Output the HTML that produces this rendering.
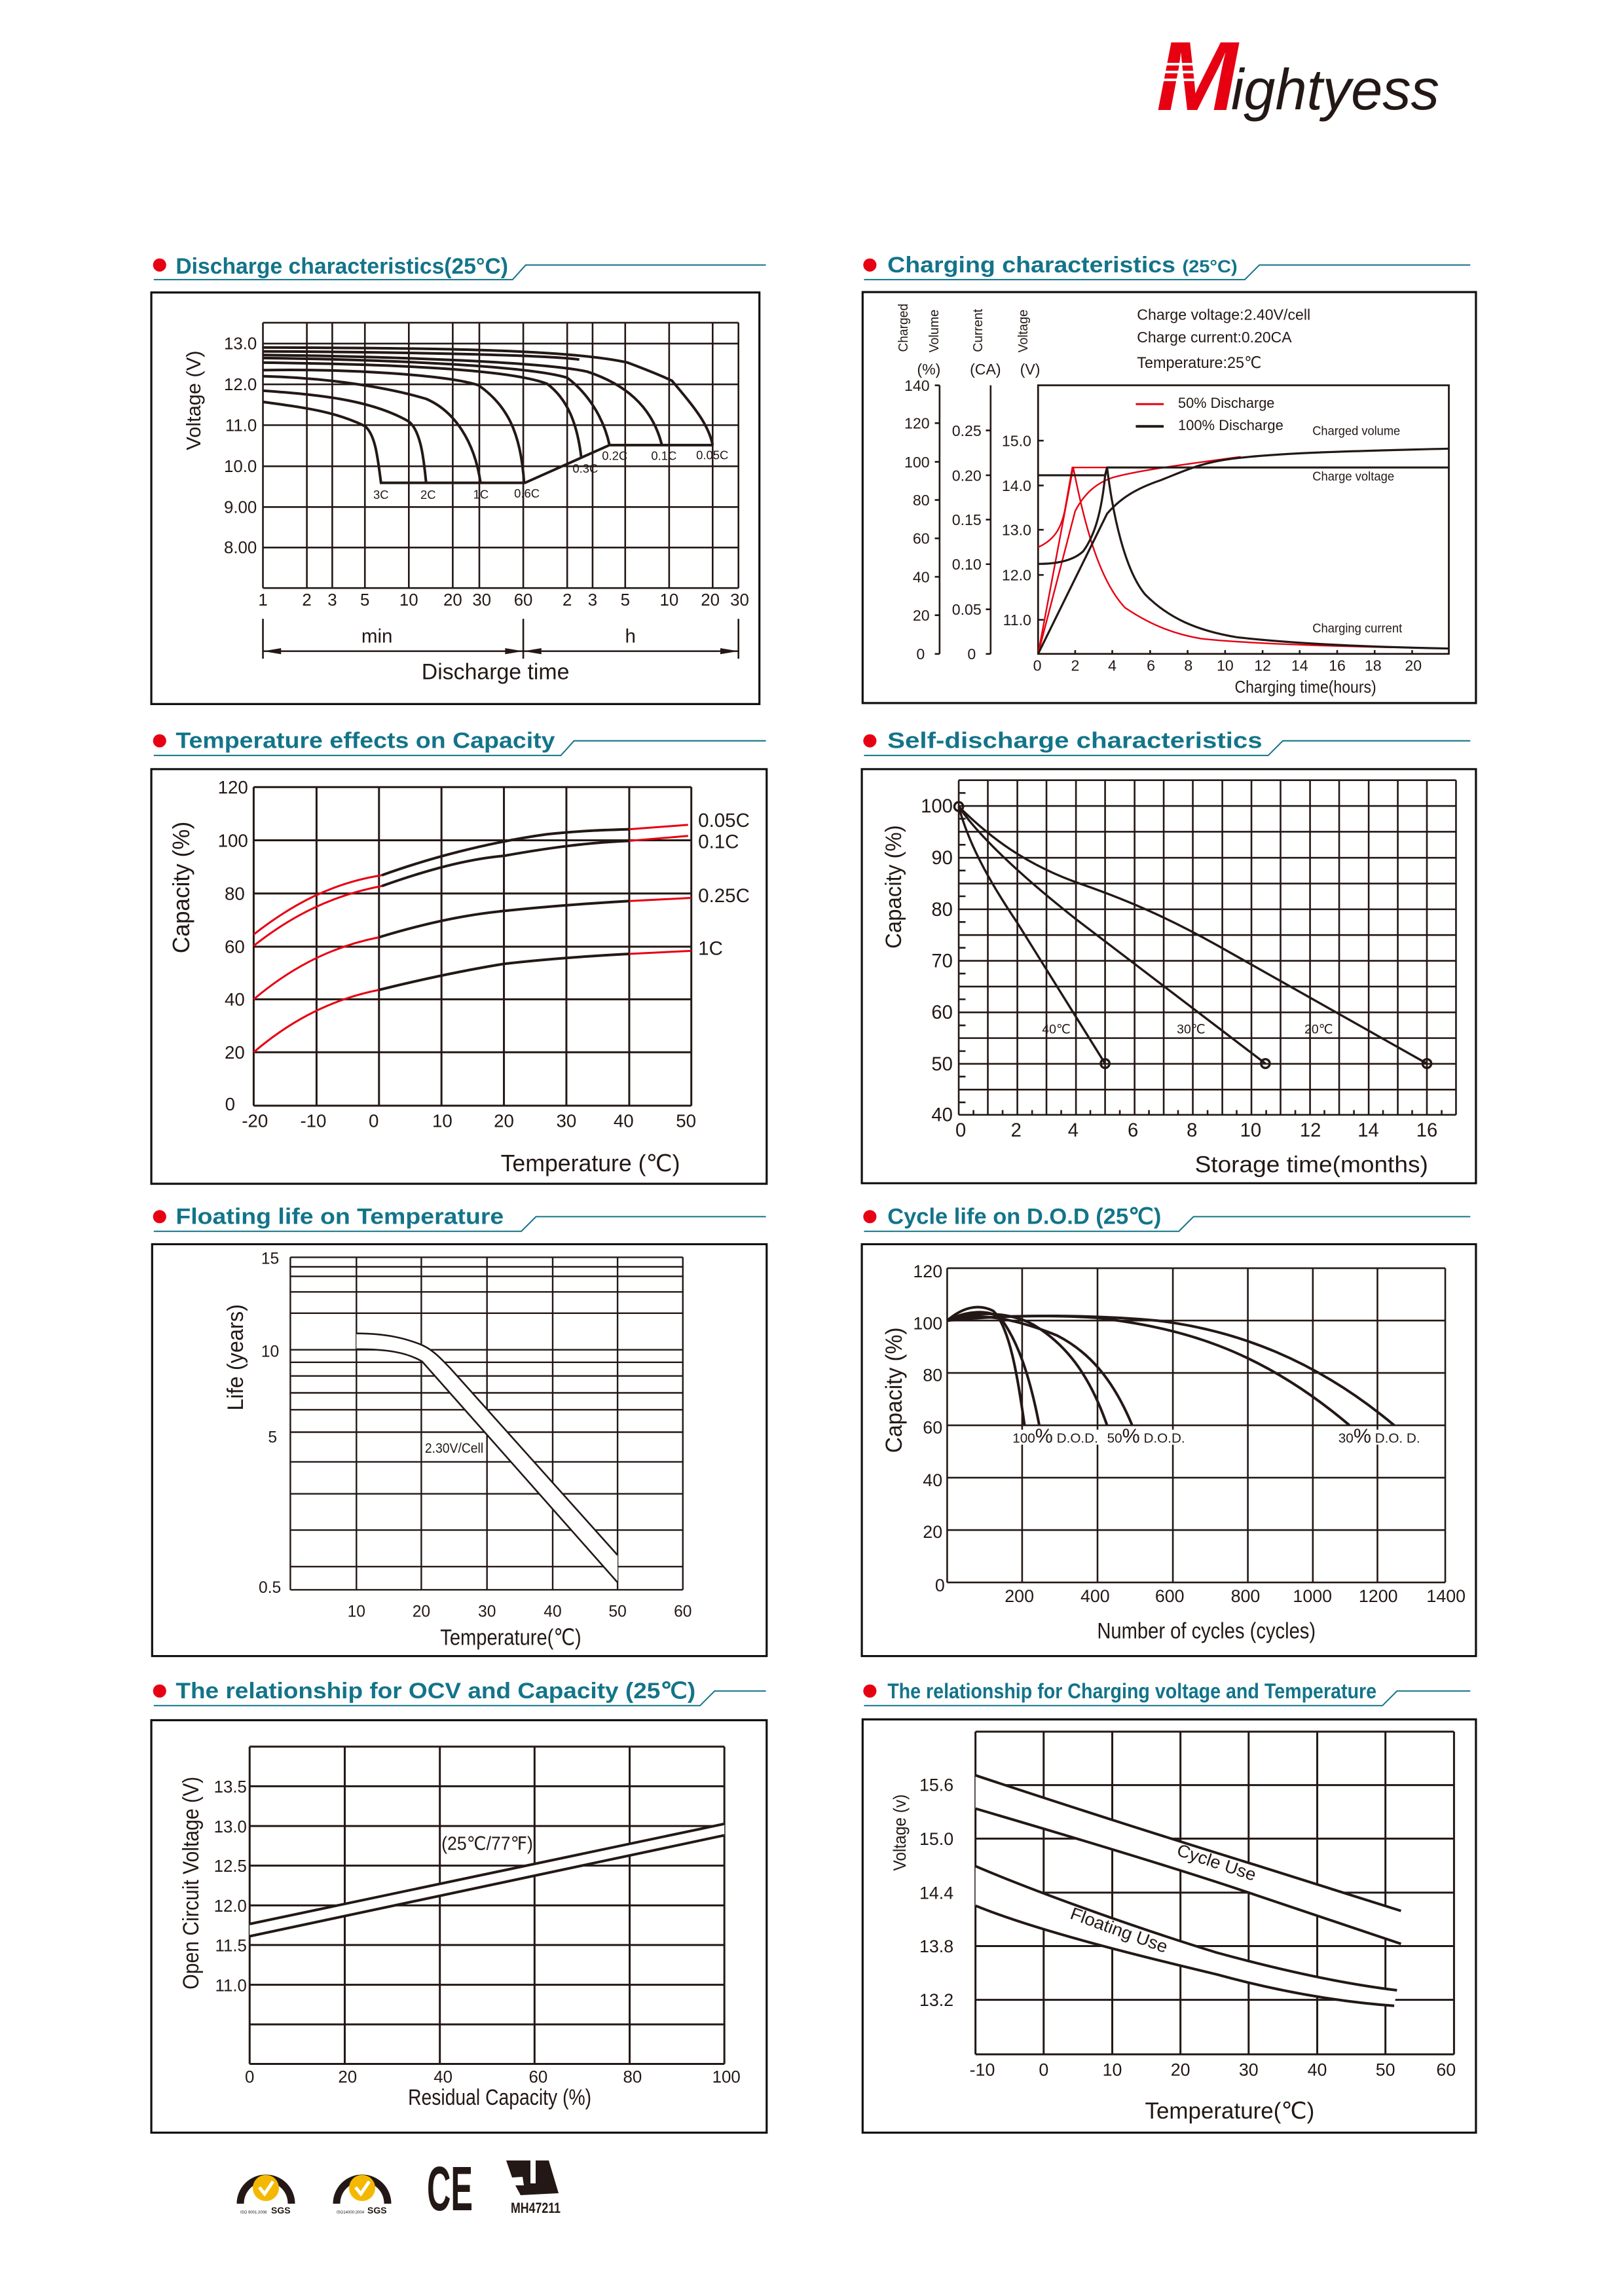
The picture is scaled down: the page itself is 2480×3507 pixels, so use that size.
<!DOCTYPE html>
<html><head><meta charset="utf-8">
<style>
html,body{margin:0;padding:0;background:#fff;}
svg{display:block;}
text{font-family:"Liberation Sans","DejaVu Sans",sans-serif;fill:#231815;}
.n path,.n rect,.n line,.n ellipse{vector-effect:non-scaling-stroke;}
.t{transform-box:fill-box;transform-origin:center;transform:scaleY(var(--k));}
.m{text-anchor:middle;}
.e{text-anchor:end;}
.g{fill:none;stroke:#231815;stroke-width:2.6;}
.c{fill:none;stroke:#231815;stroke-width:4;}
.r{fill:none;stroke:#e60012;stroke-width:3;}
.box{fill:none;stroke:#111;stroke-width:3.2;}
.ttl{font-family:"Liberation Sans Narrow","Liberation Sans",sans-serif;font-weight:bold;fill:#137489;}
</style></head><body>
<svg width="2480" height="3507" viewBox="0 0 2480 3507" xmlns="http://www.w3.org/2000/svg">
<rect x="0" y="0" width="2480" height="3507" fill="#fff"/>

<!-- Logo -->
<text x="1766" y="168" font-size="150" font-weight="bold" font-style="italic" fill="#e60012" style="fill:#e60012" textLength="124" lengthAdjust="spacingAndGlyphs">M</text>
<rect x="1770" y="96" width="60" height="4" fill="#fff"/>
<rect x="1770" y="108" width="60" height="4" fill="#fff"/>
<rect x="1770" y="120" width="60" height="4" fill="#fff"/>
<text x="1880" y="167" font-size="88" font-style="italic" textLength="318" lengthAdjust="spacingAndGlyphs">ightyess</text>

<!-- Titles -->
<g transform="scale(2.2363)">
 <g fill="#e60012">
  <circle cx="109" cy="181" r="4.5"/><circle cx="594" cy="181" r="4.5"/>
  <circle cx="109" cy="506" r="4.5"/><circle cx="594" cy="506" r="4.5"/>
  <circle cx="109" cy="831" r="4.5"/><circle cx="594" cy="831" r="4.5"/>
  <circle cx="109" cy="1155" r="4.5"/><circle cx="594" cy="1155" r="4.5"/>
 </g>
 <g fill="none" stroke="#137489" stroke-width="0.9">
  <polyline points="105,191 350,191 359,181 523,181"/>
  <polyline points="590,191 850,191 860,181 1004,181"/>
  <polyline points="105,516 383,516 392,506 523,506"/>
  <polyline points="590,516 866,516 876,506 1004,506"/>
  <polyline points="105,841 356,841 366,831 523,831"/>
  <polyline points="590,841 805,841 815,831 1004,831"/>
  <polyline points="105,1165 478,1165 488,1155 523,1155"/>
  <polyline points="590,1165 944,1165 954,1155 1004,1155"/>
 </g>
 <text class="ttl" x="120" y="187" font-size="15.5" textLength="227" lengthAdjust="spacingAndGlyphs">Discharge characteristics(25°C)</text>
 <text class="ttl" x="606" y="186" font-size="15.5" textLength="239" lengthAdjust="spacingAndGlyphs">Charging characteristics <tspan font-size="12">(25°C)</tspan></text>
 <text class="ttl" x="120" y="511" font-size="15.5" textLength="259" lengthAdjust="spacingAndGlyphs">Temperature effects on Capacity</text>
 <text class="ttl" x="606" y="511" font-size="15.5" textLength="256" lengthAdjust="spacingAndGlyphs">Self-discharge characteristics</text>
 <text class="ttl" x="120" y="836" font-size="15.5" textLength="224" lengthAdjust="spacingAndGlyphs">Floating life on Temperature</text>
 <text class="ttl" x="606" y="836" font-size="15.5" textLength="187" lengthAdjust="spacingAndGlyphs">Cycle life on D.O.D (25℃)</text>
 <text class="ttl" x="120" y="1160" font-size="15.5" textLength="355" lengthAdjust="spacingAndGlyphs">The relationship  for OCV and Capacity (25℃)</text>
 <text class="ttl" x="606" y="1160" font-size="14.5" textLength="334" lengthAdjust="spacingAndGlyphs">The relationship for Charging voltage and Temperature</text>
</g>

<!-- Chart 1: Discharge -->
<svg class="n" x="220" y="360" width="960" height="720" viewBox="0 0 1560 1560" preserveAspectRatio="none" overflow="visible" style="--k:1.333">
 <rect class="box" x="18" y="188" width="1509" height="1362"/>
 <path class="g" d="M295 288V1166M404 288V1166M467 288V1166M548 288V1166M657 288V1166M766 288V1166M832 288V1166M941 288V1166M1050 288V1166M1113 288V1166M1194 288V1166M1303 288V1166M1411 288V1166M1475 288V1166M295 288H1475M295 357H1475M295 492H1475M295 627H1475M295 763H1475M295 898H1475M295 1032H1475M295 1166H1475"/>
 <g class="c">
  <path d="M295 550C400 570 470 580 548 630C575 660 580 740 588 818L945 818L1155 693L1411 693"/>
  <path d="M295 513C420 525 560 540 657 615C690 650 695 760 700 818"/>
  <path d="M295 465C450 470 600 500 700 540C770 580 820 680 835 818"/>
  <path d="M295 445C500 440 750 460 830 495C900 560 935 650 943 818"/>
  <path d="M295 420C600 425 900 440 1000 490C1050 540 1075 620 1085 735"/>
  <path d="M295 405C600 410 950 430 1050 470C1100 520 1140 600 1155 693"/>
  <path d="M295 395C650 400 1000 420 1100 450C1190 490 1260 560 1285 693"/>
  <path d="M295 383C650 385 1000 395 1080 410"/>
  <path d="M295 370C700 372 1050 375 1200 420C1280 460 1310 480 1310 480C1360 560 1400 620 1411 693"/>
 </g>
 <path class="g" d="M295 1268V1400M941 1268V1400M1475 1268V1400M295 1375H1475"/>
 <path d="M295 1375L340 1365L340 1385ZM941 1375L896 1365L896 1385ZM941 1375L986 1365L986 1385ZM1475 1375L1430 1365L1430 1385Z" fill="#231815"/>
 <g font-size="42">
  <text class="t e" x="280" y="372">13.0</text><text class="t e" x="280" y="507">12.0</text>
  <text class="t e" x="280" y="642">11.0</text><text class="t e" x="280" y="778">10.0</text>
  <text class="t e" x="280" y="913">9.00</text><text class="t e" x="280" y="1047">8.00</text>
  <text class="t m" x="295" y="1220">1</text><text class="t m" x="404" y="1220">2</text><text class="t m" x="467" y="1220">3</text><text class="t m" x="548" y="1220">5</text><text class="t m" x="657" y="1220">10</text><text class="t m" x="766" y="1220">20</text><text class="t m" x="838" y="1220">30</text><text class="t m" x="941" y="1220">60</text><text class="t m" x="1050" y="1220">2</text><text class="t m" x="1113" y="1220">3</text><text class="t m" x="1194" y="1220">5</text><text class="t m" x="1303" y="1220">10</text><text class="t m" x="1405" y="1220">20</text><text class="t m" x="1478" y="1220">30</text>
 </g>
 <g font-size="30">
  <text class="t m" x="588" y="868">3C</text><text class="t m" x="705" y="868">2C</text><text class="t m" x="836" y="866">1C</text><text class="t m" x="950" y="863">0.6C</text><text class="t m" x="1095" y="781">0.3C</text><text class="t m" x="1168" y="739">0.2C</text><text class="t m" x="1290" y="739">0.1C</text><text class="t m" x="1410" y="736">0.05C</text>
 </g>
 <text class="t m" x="578" y="1342" font-size="48">min</text>
 <text class="t m" x="1207" y="1342" font-size="48">h</text>
 <text class="t m" x="872" y="1462" font-size="55">Discharge time</text>
 <text class="m" transform="translate(140 545) scale(1 1.333) rotate(-90)" font-size="50">Voltage (V)</text>
</svg>

<!-- Chart 2: Charging -->
<svg class="n" x="1310" y="440" width="950" height="640" viewBox="0 0 1560 1560" preserveAspectRatio="none" overflow="visible" style="--k:1.484">
 <rect class="box" x="12" y="15" width="1538" height="1530"/>
 <path class="g" d="M205 362V1362M193 362H205M193 503H205M193 647H205M193 789H205M193 932H205M193 1075H205M193 1218H205M193 1362H205M333 362V1362M321 530H333M321 697H333M321 862H333M321 1028H333M321 1196H333M321 1362H333M452 568h14M452 735h14M452 900h14M452 1068h14M452 1235h14M545 1362v-14M638 1362v-14M733 1362v-14M827 1362v-14M921 1362v-14M1015 1362v-14M1108 1362v-14M1202 1362v-14M1296 1362v-14M1390 1362v-14"/>
 <rect x="452" y="362" width="1030" height="1000" fill="none" stroke="#231815" stroke-width="2.8"/>
 <g class="r" style="stroke-width:2.4">
  <path d="M452 965C490 940 510 900 520 820L538 668L625 668"/>
  <path d="M452 1362L545 830C570 760 600 725 640 705C700 680 800 660 960 628"/>
  <path d="M452 1362L540 668C565 850 600 1080 670 1190C740 1260 800 1290 860 1305C950 1320 1100 1330 1340 1338"/>
 </g>
 <g class="c" style="stroke-width:3.2">
  <path d="M452 1027C500 1027 540 1015 565 980C590 930 610 850 620 700L625 668L1482 668"/>
  <path d="M452 697L620 697L625 668C640 850 670 1050 720 1140C780 1230 850 1275 950 1300C1100 1325 1300 1337 1482 1342"/>
  <path d="M452 1362L625 840C660 780 700 745 760 715C820 680 860 650 940 635C1050 615 1200 608 1482 598"/>
  <path d="M697 515H767" style="stroke-width:4"/>
 </g>
 <path class="r" d="M697 432H767"/>
 <g font-size="38">
  <text class="t e" x="180" y="376">140</text><text class="t e" x="180" y="517">120</text><text class="t e" x="180" y="661">100</text><text class="t e" x="180" y="803">80</text><text class="t e" x="180" y="946">60</text><text class="t e" x="180" y="1089">40</text><text class="t e" x="180" y="1232">20</text><text class="t e" x="168" y="1376">0</text>
  <text class="t e" x="310" y="544">0.25</text><text class="t e" x="310" y="711">0.20</text><text class="t e" x="310" y="876">0.15</text><text class="t e" x="310" y="1042">0.10</text><text class="t e" x="310" y="1210">0.05</text><text class="t e" x="296" y="1376">0</text>
  <text class="t e" x="435" y="582">15.0</text><text class="t e" x="435" y="749">14.0</text><text class="t e" x="435" y="914">13.0</text><text class="t e" x="435" y="1082">12.0</text><text class="t e" x="435" y="1249">11.0</text>
  <text class="t m" x="450" y="1418">0</text><text class="t m" x="545" y="1418">2</text><text class="t m" x="638" y="1418">4</text><text class="t m" x="735" y="1418">6</text><text class="t m" x="829" y="1418">8</text><text class="t m" x="921" y="1418">10</text><text class="t m" x="1015" y="1418">12</text><text class="t m" x="1108" y="1418">14</text><text class="t m" x="1202" y="1418">16</text><text class="t m" x="1292" y="1418">18</text><text class="t m" x="1393" y="1418">20</text>
  <text class="t" x="178" y="315" text-anchor="middle">(%)</text><text class="t m" x="320" y="315">(CA)</text><text class="t m" x="432" y="315">(V)</text>
 </g>
 <text class="m" transform="translate(125 148) scale(1 1.484) rotate(-90)" font-size="34" textLength="121" lengthAdjust="spacingAndGlyphs">Charged</text>
 <text class="m" transform="translate(202 160) scale(1 1.484) rotate(-90)" font-size="34" textLength="108" lengthAdjust="spacingAndGlyphs">Volume</text>
 <text class="m" transform="translate(312 158) scale(1 1.484) rotate(-90)" font-size="34" textLength="108" lengthAdjust="spacingAndGlyphs">Current</text>
 <text class="m" transform="translate(425 160) scale(1 1.484) rotate(-90)" font-size="34" textLength="108" lengthAdjust="spacingAndGlyphs">Voltage</text>
 <text class="t" x="700" y="112" font-size="38" textLength="435" lengthAdjust="spacingAndGlyphs">Charge voltage:2.40V/cell</text>
 <text class="t" x="700" y="196" font-size="38" textLength="388" lengthAdjust="spacingAndGlyphs">Charge current:0.20CA</text>
 <text class="t" x="700" y="292" font-size="40" textLength="312" lengthAdjust="spacingAndGlyphs">Temperature:25℃</text>
 <text class="t" x="803" y="440" font-size="36" textLength="242" lengthAdjust="spacingAndGlyphs">50% Discharge</text>
 <text class="t" x="803" y="523" font-size="36" textLength="264" lengthAdjust="spacingAndGlyphs">100% Discharge</text>
 <text class="t" x="1140" y="542" font-size="32" textLength="220" lengthAdjust="spacingAndGlyphs">Charged volume</text>
 <text class="t" x="1140" y="712" font-size="32" textLength="205" lengthAdjust="spacingAndGlyphs">Charge voltage</text>
 <text class="t" x="1140" y="1277" font-size="32" textLength="225" lengthAdjust="spacingAndGlyphs">Charging current</text>
 <text class="t" x="945" y="1500" font-size="42" textLength="355" lengthAdjust="spacingAndGlyphs">Charging time(hours)</text>
</svg>

<!-- Chart 3: Temperature effects -->
<svg class="n" x="220" y="1160" width="960" height="660" viewBox="0 0 1560 1560" preserveAspectRatio="none" overflow="visible" style="--k:1.4545">
 <rect class="box" x="18" y="35" width="1527" height="1497"/>
 <path class="g" style="stroke-width:3" d="M272 100V1250M428 100V1250M583 100V1250M738 100V1250M893 100V1250M1048 100V1250M1204 100V1250M1358 100V1250M272 100H1358M272 292H1358M272 484H1358M272 676H1358M272 866H1358M272 1057H1358M272 1250H1358"/>
 <g class="r"><path d="M272 632C370 520 470 445 590 418"/><path d="M1204 252L1350 236"/>
  <path d="M272 673C370 560 470 490 590 457"/><path d="M1204 294L1350 276"/>
  <path d="M272 866C350 770 450 680 583 642"/><path d="M1204 511L1358 500"/>
  <path d="M272 1057C350 960 450 870 583 832"/><path d="M1204 702L1358 691"/></g>
 <g class="c"><path d="M590 418C700 360 850 300 1000 270C1100 255 1150 255 1204 252"/>
  <path d="M590 457C700 400 800 360 893 348C1000 320 1100 300 1204 294"/>
  <path d="M583 642C700 590 800 560 893 547C1000 530 1100 520 1204 511"/>
  <path d="M583 832C700 790 800 760 893 738C1000 720 1100 710 1204 702"/></g>
 <g font-size="45">
  <text class="t e" x="258" y="116">120</text><text class="t e" x="258" y="308">100</text><text class="t e" x="250" y="500">80</text><text class="t e" x="250" y="692">60</text><text class="t e" x="250" y="882">40</text><text class="t e" x="250" y="1073">20</text><text class="t e" x="226" y="1260">0</text>
  <text class="t m" x="275" y="1320">-20</text><text class="t m" x="420" y="1320">-10</text><text class="t m" x="570" y="1320">0</text><text class="t m" x="740" y="1320">10</text><text class="t m" x="893" y="1320">20</text><text class="t m" x="1048" y="1320">30</text><text class="t m" x="1190" y="1320">40</text><text class="t m" x="1345" y="1320">50</text>
 </g>
 <g font-size="48"><text class="t" x="1375" y="236">0.05C</text><text class="t" x="1375" y="313">0.1C</text><text class="t" x="1375" y="508">0.25C</text><text class="t" x="1375" y="698">1C</text></g>
 <text class="m" transform="translate(112 462) scale(1 1.4545) rotate(-90)" font-size="58" textLength="327" lengthAdjust="spacingAndGlyphs">Capacity  (%)</text>
 <text class="t" x="885" y="1478" font-size="58" textLength="445" lengthAdjust="spacingAndGlyphs">Temperature (℃)</text>
</svg>

<!-- Chart 4: Self-discharge -->
<svg class="n" x="1310" y="1160" width="950" height="660" viewBox="0 0 1560 1560" preserveAspectRatio="none" overflow="visible" style="--k:1.439">
 <rect class="box" x="10" y="35" width="1540" height="1495"/>
 <path class="g" d="M253 75V1283M326 75V1283M400 75V1283M473 75V1283M547 75V1283M620 75V1283M694 75V1283M767 75V1283M840 75V1283M914 75V1283M987 75V1283M1060 75V1283M1134 75V1283M1207 75V1283M1281 75V1283M1354 75V1283M1427 75V1283M1500 75V1283M253 75H1500M253 168H1500M253 261H1500M253 355H1500M253 448H1500M253 541H1500M253 634H1500M253 727H1500M253 820H1500M253 913H1500M253 1006H1500M253 1099H1500M253 1192H1500M253 1283H1500M253 121h17M253 214h17M253 308h17M253 401h17M253 494h17M253 587h17M253 680h17M253 773h17M253 866h17M253 960h17M253 1053h17M253 1145h17M253 1238h17M290 1283v-17M363 1283v-17M437 1283v-17M510 1283v-17M583 1283v-17M657 1283v-17M730 1283v-17M803 1283v-17M877 1283v-17M950 1283v-17M1024 1283v-17M1097 1283v-17M1170 1283v-17M1244 1283v-17M1317 1283v-17M1390 1283v-17M1464 1283v-17"/>
 <g class="c" style="stroke-width:3.4">
  <path d="M253 170C275 290 320 420 400 590L620 1098"/>
  <path d="M253 170C300 270 400 410 550 580L1022 1098"/>
  <path d="M253 170C330 280 420 380 560 450C700 520 800 590 900 670L1427 1098"/>
  <ellipse cx="253" cy="170" rx="11" ry="16"/><ellipse cx="620" cy="1098" rx="11" ry="16"/><ellipse cx="1022" cy="1098" rx="11" ry="16"/><ellipse cx="1427" cy="1098" rx="11" ry="16"/>
 </g>
 <g font-size="48">
  <text class="t e" x="238" y="185">100</text><text class="t e" x="238" y="372">90</text><text class="t e" x="238" y="558">80</text><text class="t e" x="238" y="744">70</text><text class="t e" x="238" y="930">60</text><text class="t e" x="238" y="1116">50</text><text class="t e" x="238" y="1300">40</text>
  <text class="t m" x="258" y="1355">0</text><text class="t m" x="397" y="1355">2</text><text class="t m" x="540" y="1355">4</text><text class="t m" x="690" y="1355">6</text><text class="t m" x="838" y="1355">8</text><text class="t m" x="985" y="1355">10</text><text class="t m" x="1135" y="1355">12</text><text class="t m" x="1280" y="1355">14</text><text class="t m" x="1427" y="1355">16</text>
 </g>
 <g font-size="32"><text class="t" x="462" y="985">40℃</text><text class="t" x="800" y="985">30℃</text><text class="t" x="1120" y="985">20℃</text></g>
 <text class="m" transform="translate(108 460) scale(1 1.439) rotate(-90)" font-size="56" textLength="310" lengthAdjust="spacingAndGlyphs">Capacity (%)</text>
 <text class="t" x="845" y="1482" font-size="58" textLength="585" lengthAdjust="spacingAndGlyphs">Storage time(months)</text>
</svg>

<!-- Chart 5: Floating life -->
<svg class="n" x="220" y="1890" width="960" height="650" viewBox="0 0 1560 1560" preserveAspectRatio="none" overflow="visible" style="--k:1.477">
 <rect class="box" x="20" y="25" width="1525" height="1510"/>
 <path class="g" style="stroke-width:2.4" d="M363 73V1292M527 73V1292M688 73V1292M851 73V1292M1014 73V1292M1175 73V1292M1337 73V1292M363 73H1337M363 108H1337M363 143H1337M363 200H1337M363 278H1337M363 412H1337M363 458H1337M363 508H1337M363 570H1337M363 632H1337M363 714H1337M363 823H1337M363 940H1337M363 1073H1337M363 1207H1337M363 1292H1337"/>
 <path d="M527 352C600 352 650 370 690 395C720 415 740 450 760 480L1175 1165L1175 1265L690 455C650 420 600 410 527 410Z" fill="#fff"/>
 <g class="c" style="stroke-width:2.6">
  <path d="M527 352C600 352 650 370 690 395C720 415 740 450 760 480L1175 1165"/>
  <path d="M527 410C600 410 650 420 690 455L1175 1265"/>
 </g>
 <g font-size="40">
  <text class="t e" x="335" y="92">15</text><text class="t e" x="335" y="432">10</text><text class="t e" x="330" y="747">5</text><text class="t e" x="340" y="1297">0.5</text>
  <text class="t m" x="527" y="1385">10</text><text class="t m" x="688" y="1385">20</text><text class="t m" x="851" y="1385">30</text><text class="t m" x="1014" y="1385">40</text><text class="t m" x="1175" y="1385">50</text><text class="t m" x="1337" y="1385">60</text>
 </g>
 <text class="t" x="697" y="785" font-size="34" textLength="145" lengthAdjust="spacingAndGlyphs">2.30V/Cell</text>
 <text class="m" transform="translate(245 440) scale(1 1.477) rotate(-90)" font-size="56" textLength="264" lengthAdjust="spacingAndGlyphs">Life (years)</text>
 <text class="t" x="735" y="1485" font-size="56" textLength="350" lengthAdjust="spacingAndGlyphs">Temperature(℃)</text>
</svg>

<!-- Chart 6: Cycle life -->
<svg class="n" x="1310" y="1890" width="950" height="650" viewBox="0 0 1560 1560" preserveAspectRatio="none" overflow="visible" style="--k:1.4615">
 <rect class="box" x="10" y="25" width="1540" height="1510"/>
 <path class="g" d="M224 113V1265M412 113V1265M601 113V1265M790 113V1265M978 113V1265M1141 113V1265M1303 113V1265M1473 113V1265M224 113H1473M224 305H1473M224 497H1473M224 689H1473M224 881H1473M224 1073H1473M224 1265H1473"/>
 <rect x="385" y="705" width="430" height="55" fill="#fff"/>
 <rect x="1200" y="705" width="200" height="55" fill="#fff"/>
 <g class="c">
  <path d="M224 305C260 260 300 240 340 270C380 330 400 500 418 689"/>
  <path d="M224 305C270 270 330 260 360 300C400 380 430 500 455 689"/>
  <path d="M224 305C280 270 380 270 440 320C520 390 580 500 625 689"/>
  <path d="M224 305C300 270 400 300 500 360C580 420 640 520 688 689"/>
  <path d="M224 305C350 285 500 285 600 295C800 330 1000 400 1233 689"/>
  <path d="M224 305C400 280 600 285 750 305C950 340 1150 450 1345 689"/>
 </g>
 <g font-size="44">
  <text class="t e" x="212" y="140">120</text><text class="t e" x="212" y="330">100</text><text class="t e" x="212" y="520">80</text><text class="t e" x="212" y="712">60</text><text class="t e" x="212" y="905">40</text><text class="t e" x="212" y="1095">20</text><text class="t e" x="218" y="1290">0</text>
  <text class="t m" x="405" y="1330">200</text><text class="t m" x="595" y="1330">400</text><text class="t m" x="782" y="1330">600</text><text class="t m" x="972" y="1330">800</text><text class="t m" x="1140" y="1330">1000</text><text class="t m" x="1305" y="1330">1200</text><text class="t m" x="1475" y="1330">1400</text>
 </g>
 <text class="t" x="388" y="745" font-size="34">100<tspan font-size="50">%</tspan> D.O.D.</text>
 <text class="t" x="625" y="745" font-size="34">50<tspan font-size="50">%</tspan> D.O.D.</text>
 <text class="t" x="1205" y="745" font-size="34">30<tspan font-size="50">%</tspan> D.O. D.</text>
 <text class="m" transform="translate(110 560) scale(1 1.4615) rotate(-90)" font-size="58" textLength="315" lengthAdjust="spacingAndGlyphs">Capacity  (%)</text>
 <text class="t" x="600" y="1462" font-size="56" textLength="548" lengthAdjust="spacingAndGlyphs">Number of cycles (cycles)</text>
</svg>

<!-- Chart 7: OCV -->
<svg class="n" x="220" y="2620" width="960" height="650" viewBox="0 0 1560 1560" preserveAspectRatio="none" overflow="visible" style="--k:1.477">
 <rect class="box" x="18" y="18" width="1527" height="1512"/>
 <path class="g" style="stroke-width:3" d="M262 115V1278M498 115V1278M734 115V1278M969 115V1278M1205 115V1278M1440 115V1278M262 115H1440M262 260H1440M262 406H1440M262 551H1440M262 697H1440M262 842H1440M262 988H1440M262 1133H1440M262 1278H1440"/>
 <path d="M262 765L1440 398L1440 440L262 810Z" fill="#fff"/>
 <path class="c" d="M262 765L1440 398M262 810L1440 440"/>
 <g font-size="42">
  <text class="t e" x="255" y="277">13.5</text><text class="t e" x="255" y="423">13.0</text><text class="t e" x="255" y="568">12.5</text><text class="t e" x="255" y="714">12.0</text><text class="t e" x="255" y="859">11.5</text><text class="t e" x="255" y="1005">11.0</text>
  <text class="t m" x="262" y="1340">0</text><text class="t m" x="505" y="1340">20</text><text class="t m" x="742" y="1340">40</text><text class="t m" x="978" y="1340">60</text><text class="t m" x="1212" y="1340">80</text><text class="t m" x="1445" y="1340">100</text>
 </g>
 <text class="t" x="738" y="485" font-size="46" textLength="227" lengthAdjust="spacingAndGlyphs">(25℃/77℉)</text>
 <text class="m" transform="translate(135 615) scale(1 1.477) rotate(-90)" font-size="56" textLength="528" lengthAdjust="spacingAndGlyphs">Open Circuit Voltage (V)</text>
 <text class="t" x="655" y="1420" font-size="56" textLength="455" lengthAdjust="spacingAndGlyphs">Residual Capacity (%)</text>
</svg>

<!-- Chart 8: Charging voltage vs temperature -->
<svg class="n" x="1310" y="2620" width="950" height="650" viewBox="0 0 1560 1560" preserveAspectRatio="none" overflow="visible" style="--k:1.4615">
 <rect class="box" x="12" y="15" width="1538" height="1515"/>
 <path class="g" style="stroke-width:3" d="M295 60V1243M466 60V1243M638 60V1243M809 60V1243M980 60V1243M1152 60V1243M1323 60V1243M1495 60V1243M295 60H1495M295 256H1495M295 452H1495M295 650H1495M295 846H1495M295 1043H1495M295 1243H1495"/>
 <path d="M295 220C500 320 800 460 1000 550L1362 717L1362 838L1000 660C800 560 500 430 295 342Z" fill="#fff"/>
 <path d="M295 553C450 650 700 780 900 870C1100 950 1250 990 1352 1008L1345 1065C1250 1055 1100 1030 900 950C700 880 450 790 295 698Z" fill="#fff"/>
 <g class="c">
  <path d="M295 220C500 320 800 460 1000 550L1362 717"/>
  <path d="M295 342C500 430 800 560 1000 660L1362 838"/>
  <path d="M295 553C450 650 700 780 900 870C1100 950 1250 990 1352 1008"/>
  <path d="M295 698C450 790 700 880 900 950C1100 1030 1250 1055 1345 1065"/>
 </g>
 <g font-size="44">
  <text class="t e" x="240" y="271">15.6</text><text class="t e" x="240" y="468">15.0</text><text class="t e" x="240" y="666">14.4</text><text class="t e" x="240" y="862">13.8</text><text class="t e" x="240" y="1059">13.2</text>
  <text class="t m" x="312" y="1315">-10</text><text class="t m" x="466" y="1315">0</text><text class="t m" x="638" y="1315">10</text><text class="t m" x="809" y="1315">20</text><text class="t m" x="980" y="1315">30</text><text class="t m" x="1152" y="1315">40</text><text class="t m" x="1323" y="1315">50</text><text class="t m" x="1475" y="1315">60</text>
 </g>
 <text class="m" transform="translate(895 560) scale(1 1.4615) rotate(18.5)" font-size="44" textLength="206" lengthAdjust="spacingAndGlyphs">Cycle Use</text>
 <text class="m" transform="translate(650 808) scale(1 1.4615) rotate(20)" font-size="44" textLength="256" lengthAdjust="spacingAndGlyphs">Floating Use</text>
 <text class="m" transform="translate(120 430) scale(1 1.4615) rotate(-90)" font-size="44" textLength="192" lengthAdjust="spacingAndGlyphs">Voltage (v)</text>
 <text class="t" x="720" y="1470" font-size="58" textLength="425" lengthAdjust="spacingAndGlyphs">Temperature(℃)</text>
</svg>

<!-- Certification logos -->
<g>
 <path d="M367 3366 A39 39 0 1 1 445 3366" fill="none" stroke="#231815" stroke-width="11"/>
 <circle cx="406" cy="3342" r="20" fill="#f5b800"/>
 <path d="M396 3341 L404 3351 L417 3332" fill="none" stroke="#fff" stroke-width="5"/>
 <text x="414" y="3381" font-size="14" font-weight="bold">SGS</text>
 <text x="367" y="3381" font-size="6">ISO 9001:2008</text>
 <path d="M514 3366 A39 39 0 1 1 592 3366" fill="none" stroke="#231815" stroke-width="11"/>
 <circle cx="553" cy="3342" r="20" fill="#f5b800"/>
 <path d="M543 3341 L551 3351 L564 3332" fill="none" stroke="#fff" stroke-width="5"/>
 <text x="561" y="3381" font-size="14" font-weight="bold">SGS</text>
 <text x="514" y="3381" font-size="6">ISO14000:2004</text>
 <text x="652" y="3376" font-size="96" font-weight="bold" textLength="70" lengthAdjust="spacingAndGlyphs">CE</text>
 <path d="M773 3300 L810 3300 L810 3335 L818 3335 L818 3300 L838 3300 L853 3350 L795 3353 L787 3338 L800 3338 L798 3325 L782 3326 Z" fill="#231815"/>
 <text x="780" y="3380" font-size="22" font-weight="bold" textLength="76" lengthAdjust="spacingAndGlyphs">MH47211</text>
</g>
</svg>
</body></html>
